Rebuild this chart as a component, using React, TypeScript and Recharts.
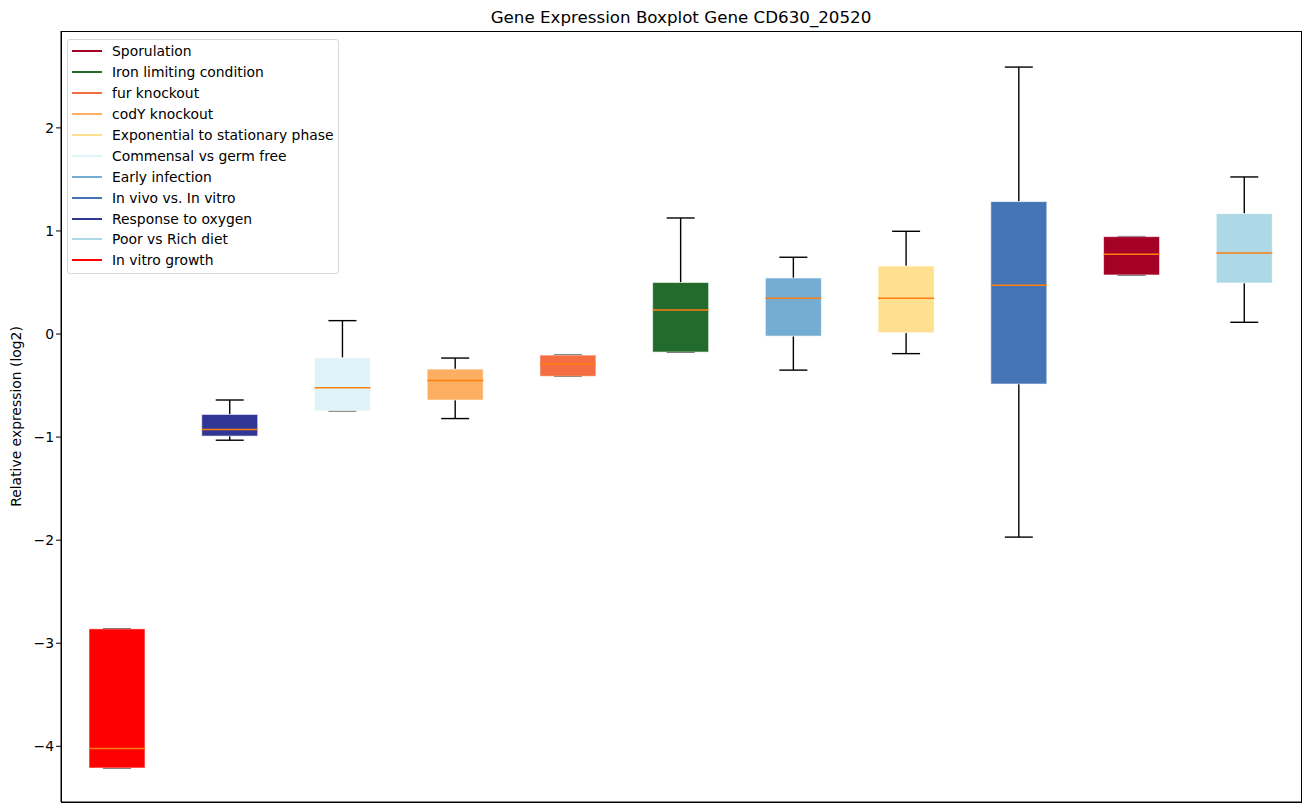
import { Bar, ComposedChart, XAxis, YAxis } from "recharts";

const categories = [
  "In vitro growth",
  "Response to oxygen",
  "Commensal vs germ free",
  "codY knockout",
  "fur knockout",
  "Iron limiting condition",
  "Early infection",
  "Exponential to stationary phase",
  "In vivo vs. In vitro",
  "Sporulation",
  "Poor vs Rich diet",
];
const whiskerLow = [-4.21, -1.03, -0.745, -0.82, -0.41, -0.175, -0.35, -0.19, -1.97, 0.573, 0.114];
const q1 = [-4.21, -0.99, -0.745, -0.64, -0.41, -0.175, -0.02, 0.013, -0.485, 0.573, 0.495];
const median = [-4.02, -0.925, -0.52, -0.45, -0.29, 0.233, 0.347, 0.347, 0.473, 0.774, 0.786];
const q3 = [-2.86, -0.78, -0.23, -0.34, -0.204, 0.5, 0.544, 0.66, 1.285, 0.945, 1.168];
const whiskerHigh = [-2.86, -0.64, 0.13, -0.233, -0.204, 1.126, 0.745, 0.997, 2.59, 0.945, 1.524];
const boxColors = [
  "#ff0000",
  "#313695",
  "#e0f3f8",
  "#fdae61",
  "#f46d43",
  "#226b2c",
  "#74add1",
  "#fee090",
  "#4575b4",
  "#a50026",
  "#add8e6",
];
const legendOrder = [
  "Sporulation",
  "Iron limiting condition",
  "fur knockout",
  "codY knockout",
  "Exponential to stationary phase",
  "Commensal vs germ free",
  "Early infection",
  "In vivo vs. In vitro",
  "Response to oxygen",
  "Poor vs Rich diet",
  "In vitro growth",
];
const yTicks = [-4, -3, -2, -1, 0, 1, 2];
const Y_DOMAIN = [-4.54, 2.94];

const data = categories.map((name, i) => ({
  name,
  range: [whiskerLow[i], whiskerHigh[i]],
  lo: whiskerLow[i],
  hi: whiskerHigh[i],
  q1: q1[i],
  med: median[i],
  q3: q3[i],
  color: boxColors[i],
}));

const FONT = "'DejaVu Sans', sans-serif";

const BoxShape = (props: any) => {
  const { x, y, width, height, payload } = props;
  const top = Math.min(y, y + height);
  const h = Math.abs(height);
  const toPx = (v: number) =>
    payload.hi === payload.lo ? top : top + ((payload.hi - v) / (payload.hi - payload.lo)) * h;
  const cx = x + width / 2;
  const capHalf = width / 4;
  const yHi = toPx(payload.hi);
  const yLo = toPx(payload.lo);
  const yQ3 = toPx(payload.q3);
  const yQ1 = toPx(payload.q1);
  const yMed = toPx(payload.med);
  return (
    <g>
      <line x1={cx} x2={cx} y1={yHi} y2={yQ3} stroke="#000" strokeWidth={1.4} />
      <line x1={cx} x2={cx} y1={yQ1} y2={yLo} stroke="#000" strokeWidth={1.4} />
      <line x1={cx - capHalf} x2={cx + capHalf} y1={yHi} y2={yHi} stroke="#000" strokeWidth={1.4} />
      <line x1={cx - capHalf} x2={cx + capHalf} y1={yLo} y2={yLo} stroke="#000" strokeWidth={1.4} />
      <rect
        x={x}
        y={yQ3}
        width={width}
        height={Math.max(yQ1 - yQ3, 0)}
        fill={payload.color}
        stroke="rgba(255,255,255,0.6)"
        strokeWidth={1}
      />
      <line x1={x} x2={x + width} y1={yMed} y2={yMed} stroke="#ff7f0e" strokeWidth={1.5} />
    </g>
  );
};

export default function App() {
  return (
    <div
      style={{
        position: "absolute",
        left: 0,
        top: 0,
        width: 1309,
        height: 812,
        background: "#fff",
        fontFamily: FONT,
      }}
    >
      <div
        style={{
          position: "absolute",
          left: 61,
          width: 1240,
          top: 7,
          textAlign: "center",
          fontSize: 16.7,
          color: "#000",
        }}
      >
        Gene Expression Boxplot Gene CD630_20520
      </div>
      <ComposedChart
        width={1309}
        height={812}
        data={data}
        margin={{ top: 31, right: 8, bottom: 0, left: 0 }}
        barCategoryGap={0}
      >
        <XAxis dataKey="name" tick={false} tickLine={false} height={10} axisLine={{ stroke: "#000" }} />
        <YAxis
          type="number"
          domain={Y_DOMAIN}
          ticks={yTicks}
          width={61}
          tickSize={5}
          tickLine={{ stroke: "#000" }}
          axisLine={{ stroke: "#000" }}
          tick={{ fill: "#000", fontSize: 13.9, fontFamily: FONT }}
          tickFormatter={(v: number) => (v < 0 ? `\u2212${-v}` : `${v}`)}
          allowDataOverflow
          label={{
            value: "Relative expression (log2)",
            angle: -90,
            position: "insideLeft",
            dx: 11,
            style: { textAnchor: "middle", fill: "#000", fontSize: 13.9, fontFamily: FONT },
          }}
        />
        <Bar dataKey="range" barSize={56} shape={BoxShape} isAnimationActive={false} />
      </ComposedChart>
      {/* axes frame */}
      <div
        style={{
          position: "absolute",
          left: 61,
          top: 31,
          width: 1241,
          height: 772,
          boxSizing: "border-box",
          border: "1px solid #000",
          pointerEvents: "none",
        }}
      />
      <div
        style={{
          position: "absolute",
          left: 67,
          top: 39,
          border: "1px solid #d6d6d6",
          borderRadius: 3,
          background: "rgba(255,255,255,0.8)",
          width: 272,
          height: 235,
          boxSizing: "border-box",
          paddingTop: 1,
          fontSize: 13.9,
          color: "#000",
        }}
      >
        {legendOrder.map((name) => (
          <div key={name} style={{ display: "flex", alignItems: "center", height: 20.9 }}>
            <div
              style={{
                marginLeft: 4,
                width: 30,
                height: 2,
                background: boxColors[categories.indexOf(name)],
              }}
            />
            <span style={{ marginLeft: 10, whiteSpace: "nowrap" }}>{name}</span>
          </div>
        ))}
      </div>
    </div>
  );
}
